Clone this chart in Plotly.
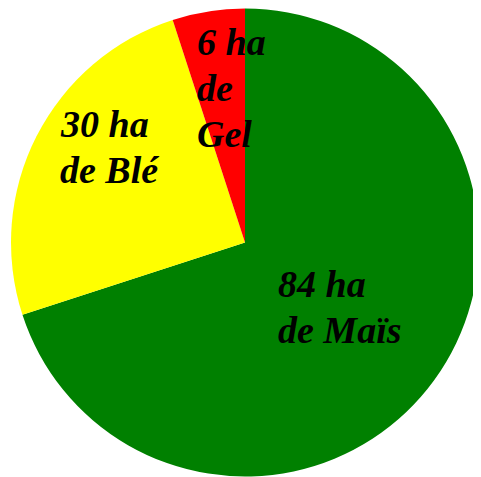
import plotly.graph_objects as go

categories = ["Maïs", "Blé", "Gel"]
hectares = [84, 30, 6]
colors = ["#008000", "#ffff00", "#ff0000"]
label_lines = [["84 ha", "de Maïs"], ["30 ha", "de Blé"], ["6 ha", "de", "Gel"]]
# label placement (screen pixels): left x, first baseline y
label_px = [(277.7, 297), (60, 137), (196.7, 55)]
LINE_STEP = 46
FONT_SIZE = 38
OFFSET = 8  # page body margin

W, H = 481, 477
ML, MT = 2.5, 0
pw = ph = 469
MR, MB = W - ML - pw, H - MT - ph

fig = go.Figure(go.Pie(
    labels=categories, values=hectares, sort=False, direction="clockwise",
    rotation=0, marker=dict(colors=colors, line=dict(width=0)),
    textinfo="none", hoverinfo="label+value", showlegend=False,
))

for lines, (sx, sy) in zip(label_lines, label_px):
    for i, t in enumerate(lines):
        fx = sx - OFFSET - 2
        fy = sy + i * LINE_STEP - OFFSET - 0.953 * FONT_SIZE
        fig.add_annotation(
            x=(fx - ML) / pw, y=1 - (fy - MT) / ph, xref="paper", yref="paper",
            xanchor="left", yanchor="top", align="left", showarrow=False,
            text=f"<b><i>{t}</i></b>",
            font=dict(family="Liberation Serif", size=FONT_SIZE, color="black"),
        )

fig.update_layout(
    width=W, height=H, margin=dict(l=ML, r=MR, t=MT, b=MB),
    paper_bgcolor="white", plot_bgcolor="white",
)
fig.write_html("out.html")
